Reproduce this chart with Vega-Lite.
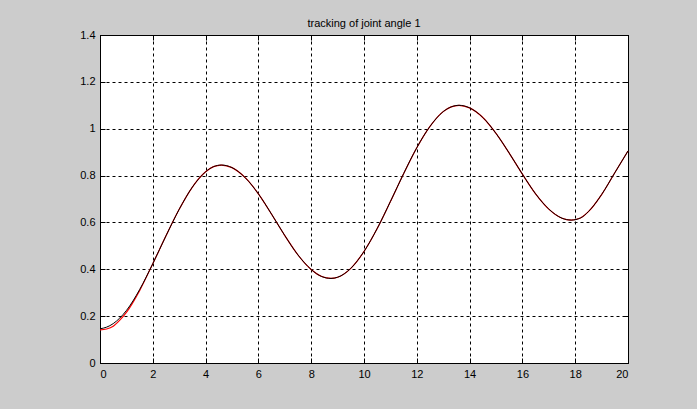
{
  "$schema": "https://vega.github.io/schema/vega-lite/v6.json",
  "width": 528,
  "height": 328,
  "autosize": {"type": "none"},
  "padding": {"left": 100, "top": 35, "right": 69, "bottom": 46},
  "background": "#cccccc",
  "title": {"text": "tracking of joint angle 1", "fontSize": 11, "font": "Liberation Sans", "fontWeight": "normal", "color": "#000000", "offset": 0},
  "config": {
    "view": {"fill": "#ffffff", "stroke": "#000000", "strokeWidth": 1},
    "axis": {
      "grid": true, "gridColor": "#000000", "gridDash": [3, 3], "gridOpacity": 1, "gridWidth": 1,
      "domainColor": "#000000", "tickColor": "#000000", "tickSize": -5, "labelPadding": 10,
      "labelFont": "Liberation Sans", "labelFontSize": 11, "labelColor": "#000000", "title": null
    }
  },
  "datasets": {
    "curves": [
      {"t": 0, "y": 0.146, "s": "actual"}, {"t": 0.25, "y": 0.153, "s": "actual"}, {"t": 0.5, "y": 0.168, "s": "actual"}, {"t": 0.75, "y": 0.192, "s": "actual"}, {"t": 1, "y": 0.224, "s": "actual"},
      {"t": 1.5, "y": 0.313, "s": "actual"}, {"t": 2, "y": 0.424, "s": "actual"}, {"t": 2.5, "y": 0.543, "s": "actual"}, {"t": 3, "y": 0.656, "s": "actual"}, {"t": 3.5, "y": 0.751, "s": "actual"},
      {"t": 4, "y": 0.816, "s": "actual"}, {"t": 4.3, "y": 0.838, "s": "actual"}, {"t": 4.6, "y": 0.845, "s": "actual"}, {"t": 5, "y": 0.834, "s": "actual"}, {"t": 5.5, "y": 0.791, "s": "actual"},
      {"t": 6, "y": 0.722, "s": "actual"}, {"t": 6.5, "y": 0.635, "s": "actual"}, {"t": 7, "y": 0.544, "s": "actual"}, {"t": 7.5, "y": 0.461, "s": "actual"}, {"t": 8, "y": 0.399, "s": "actual"},
      {"t": 8.4, "y": 0.369, "s": "actual"}, {"t": 8.75, "y": 0.361, "s": "actual"}, {"t": 9, "y": 0.366, "s": "actual"}, {"t": 9.5, "y": 0.404, "s": "actual"}, {"t": 10, "y": 0.476, "s": "actual"},
      {"t": 10.5, "y": 0.574, "s": "actual"}, {"t": 11, "y": 0.689, "s": "actual"}, {"t": 11.5, "y": 0.808, "s": "actual"}, {"t": 12, "y": 0.919, "s": "actual"}, {"t": 12.5, "y": 1.01, "s": "actual"},
      {"t": 13, "y": 1.073, "s": "actual"}, {"t": 13.3, "y": 1.093, "s": "actual"}, {"t": 13.6, "y": 1.1, "s": "actual"}, {"t": 14, "y": 1.089, "s": "actual"}, {"t": 14.5, "y": 1.048, "s": "actual"},
      {"t": 15, "y": 0.98, "s": "actual"}, {"t": 15.5, "y": 0.896, "s": "actual"}, {"t": 16, "y": 0.806, "s": "actual"}, {"t": 16.5, "y": 0.722, "s": "actual"}, {"t": 17, "y": 0.657, "s": "actual"},
      {"t": 17.5, "y": 0.618, "s": "actual"}, {"t": 17.85, "y": 0.61, "s": "actual"}, {"t": 18.2, "y": 0.619, "s": "actual"}, {"t": 18.5, "y": 0.646, "s": "actual"}, {"t": 19, "y": 0.719, "s": "actual"},
      {"t": 19.5, "y": 0.812, "s": "actual"}, {"t": 20, "y": 0.905, "s": "actual"},
      {"t": 0, "y": 0.141, "s": "desired"}, {"t": 0.25, "y": 0.145, "s": "desired"}, {"t": 0.5, "y": 0.157, "s": "desired"}, {"t": 0.75, "y": 0.183, "s": "desired"}, {"t": 1, "y": 0.216, "s": "desired"},
      {"t": 1.5, "y": 0.309, "s": "desired"}, {"t": 2, "y": 0.424, "s": "desired"}, {"t": 2.5, "y": 0.543, "s": "desired"}, {"t": 3, "y": 0.656, "s": "desired"}, {"t": 3.5, "y": 0.751, "s": "desired"},
      {"t": 4, "y": 0.816, "s": "desired"}, {"t": 4.3, "y": 0.838, "s": "desired"}, {"t": 4.6, "y": 0.845, "s": "desired"}, {"t": 5, "y": 0.834, "s": "desired"}, {"t": 5.5, "y": 0.791, "s": "desired"},
      {"t": 6, "y": 0.722, "s": "desired"}, {"t": 6.5, "y": 0.635, "s": "desired"}, {"t": 7, "y": 0.544, "s": "desired"}, {"t": 7.5, "y": 0.461, "s": "desired"}, {"t": 8, "y": 0.399, "s": "desired"},
      {"t": 8.4, "y": 0.369, "s": "desired"}, {"t": 8.75, "y": 0.361, "s": "desired"}, {"t": 9, "y": 0.366, "s": "desired"}, {"t": 9.5, "y": 0.404, "s": "desired"}, {"t": 10, "y": 0.476, "s": "desired"},
      {"t": 10.5, "y": 0.574, "s": "desired"}, {"t": 11, "y": 0.689, "s": "desired"}, {"t": 11.5, "y": 0.808, "s": "desired"}, {"t": 12, "y": 0.919, "s": "desired"}, {"t": 12.5, "y": 1.01, "s": "desired"},
      {"t": 13, "y": 1.073, "s": "desired"}, {"t": 13.3, "y": 1.093, "s": "desired"}, {"t": 13.6, "y": 1.1, "s": "desired"}, {"t": 14, "y": 1.089, "s": "desired"}, {"t": 14.5, "y": 1.048, "s": "desired"},
      {"t": 15, "y": 0.98, "s": "desired"}, {"t": 15.5, "y": 0.896, "s": "desired"}, {"t": 16, "y": 0.806, "s": "desired"}, {"t": 16.5, "y": 0.722, "s": "desired"}, {"t": 17, "y": 0.657, "s": "desired"},
      {"t": 17.5, "y": 0.618, "s": "desired"}, {"t": 17.85, "y": 0.61, "s": "desired"}, {"t": 18.2, "y": 0.619, "s": "desired"}, {"t": 18.5, "y": 0.646, "s": "desired"}, {"t": 19, "y": 0.719, "s": "desired"},
      {"t": 19.5, "y": 0.812, "s": "desired"}, {"t": 20, "y": 0.905, "s": "desired"}
    ]
  },
  "data": {"name": "curves"},
  "layer": [
    {
      "transform": [{"filter": "datum.s === 'desired'"}],
      "mark": {"type": "line", "color": "#ff0000", "strokeWidth": 1.2, "interpolate": "monotone"},
      "encoding": {
        "x": {"field": "t", "type": "quantitative", "scale": {"domain": [0, 20], "nice": false}, "axis": {"values": [0,2,4,6,8,10,12,14,16,18,20], "orient": "bottom"}},
        "y": {"field": "y", "type": "quantitative", "scale": {"domain": [0, 1.4], "nice": false}, "axis": {"values": [0,0.2,0.4,0.6,0.8,1,1.2,1.4], "orient": "left", "format": "~g"}}
      }
    },
    {
      "transform": [{"filter": "datum.s === 'actual'"}],
      "mark": {"type": "line", "color": "#000000", "strokeWidth": 1, "interpolate": "monotone"},
      "encoding": {
        "x": {"field": "t", "type": "quantitative", "axis": {"values": [0,2,4,6,8,10,12,14,16,18,20], "orient": "top", "labels": false, "grid": false}},
        "y": {"field": "y", "type": "quantitative", "axis": {"values": [0,0.2,0.4,0.6,0.8,1,1.2,1.4], "orient": "right", "labels": false, "grid": false}}
      }
    }
  ],
  "resolve": {"axis": {"x": "independent", "y": "independent"}}
}
